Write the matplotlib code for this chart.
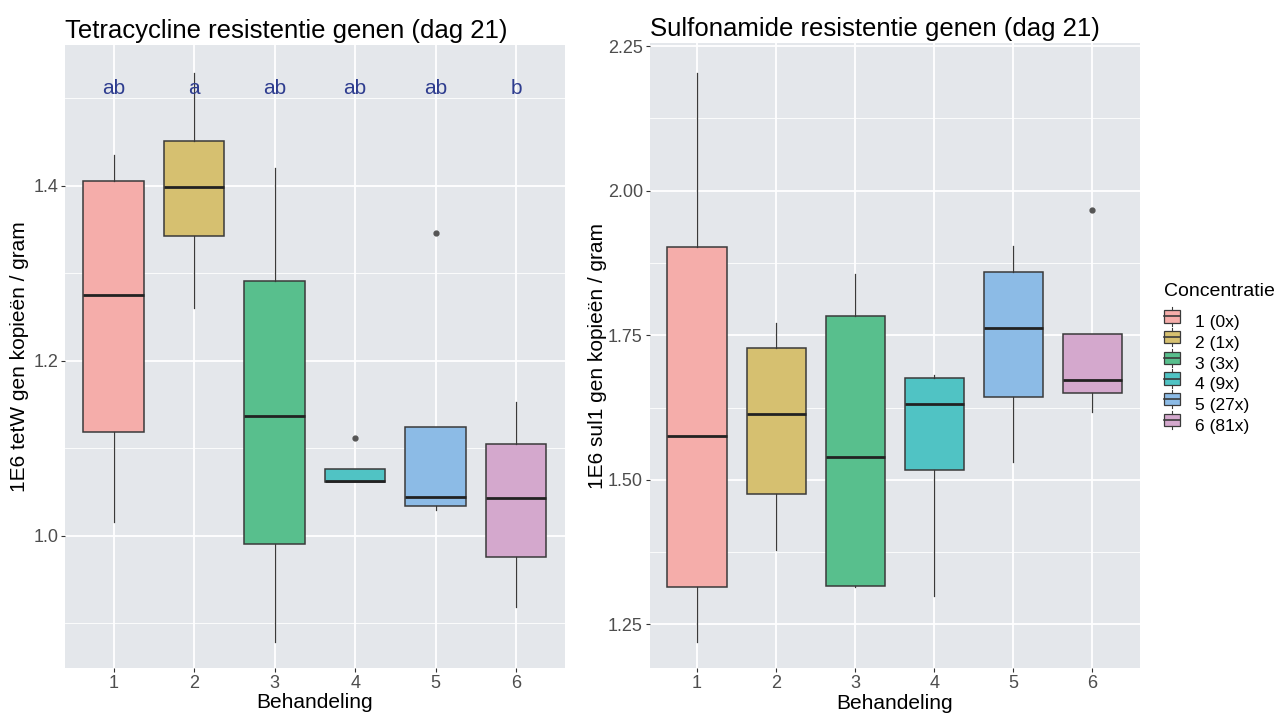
import matplotlib.pyplot as plt
import numpy as np
from matplotlib.patches import Patch, Rectangle
from matplotlib.lines import Line2D
from matplotlib.legend_handler import HandlerBase

plt.rcParams['font.family'] = ['Liberation Sans', 'DejaVu Sans']

groups = ['1', '2', '3', '4', '5', '6']
legend_labels = ['1 (0x)', '2 (1x)', '3 (3x)', '4 (9x)', '5 (27x)', '6 (81x)']
colors = ['#F5ADAA', '#D6C070', '#58BF8D', '#50C3C4', '#8CBBE6', '#D4A8CD']

# tetW (dag 21): q1, median, q3, lower whisker, upper whisker, outliers
tet_q1 = [1.119, 1.343, 0.991, 1.0614, 1.034, 0.976]
tet_med = [1.275, 1.399, 1.137, 1.063, 1.045, 1.043]
tet_q3 = [1.406, 1.451, 1.291, 1.0766, 1.125, 1.105]
tet_lo = [1.016, 1.260, 0.879, 1.0614, 1.030, 0.919]
tet_hi = [1.435, 1.529, 1.420, 1.0766, 1.125, 1.153]
tet_out = [[], [], [], [1.112], [1.346], []]
tet_letters = ['ab', 'a', 'ab', 'ab', 'ab', 'b']

# sul1 (dag 21)
sul_q1 = [1.314, 1.475, 1.317, 1.517, 1.643, 1.651]
sul_med = [1.576, 1.614, 1.540, 1.631, 1.763, 1.672]
sul_q3 = [1.903, 1.728, 1.784, 1.676, 1.860, 1.753]
sul_lo = [1.220, 1.378, 1.315, 1.299, 1.531, 1.617]
sul_hi = [2.204, 1.771, 1.856, 1.682, 1.904, 1.753]
sul_out = [[], [], [], [], [], [1.966]]

BG = '#E4E7EB'
TICKCOL = '#4D4D4D'


def make_stats(q1, med, q3, lo, hi, out):
    stats = []
    for i in range(len(groups)):
        stats.append(dict(q1=q1[i], med=med[i], q3=q3[i], whislo=lo[i],
                          whishi=hi[i], fliers=out[i], label=groups[i]))
    return stats


def style_panel(ax, ylim, major, minor, title, ylabel, label_x):
    ax.set_facecolor(BG)
    for s in ax.spines.values():
        s.set_visible(False)
    ax.set_ylim(*ylim)
    ax.set_xlim(0.4, 6.6)
    ax.set_yticks(major)
    ax.set_yticks(minor, minor=True)
    ax.grid(which='major', color='white', lw=1.3, zorder=0)
    ax.grid(which='minor', axis='y', color='white', lw=0.6, zorder=0)
    ax.set_axisbelow(True)
    ax.tick_params(axis='both', which='major', colors='#333333', labelcolor=TICKCOL,
                   labelsize=13, length=3, width=0.8, pad=2)
    ax.tick_params(axis='y', which='minor', length=0)
    ax.set_title(title, loc='left', fontsize=18.5, pad=5)
    ax.set_xlabel('Behandeling', fontsize=15, labelpad=1)
    ax.set_ylabel(ylabel, fontsize=15)
    ax.yaxis.label.set_verticalalignment('center')
    ax.yaxis.set_label_coords(label_x, 0.5)


def draw_boxes(ax, stats):
    bp = ax.bxp(stats, positions=np.arange(1, 7), widths=0.75, patch_artist=True,
                showcaps=False,
                boxprops=dict(edgecolor='#3A3A3A', linewidth=1.1),
                medianprops=dict(color='#222222', linewidth=2),
                whiskerprops=dict(color='#3A3A3A', linewidth=0.9),
                flierprops=dict(marker='o', markersize=3.5, markerfacecolor='#555555',
                                markeredgecolor='#555555'))
    for patch, c in zip(bp['boxes'], colors):
        patch.set_facecolor(c)
    return bp


class BoxKey(HandlerBase):
    def create_artists(self, legend, orig, xd, yd, w, h, fontsize, trans):
        cx = xd + w / 2
        bw = w * 0.95
        bh = h * 0.75
        rect = Rectangle((cx - bw / 2, yd + (h - bh) / 2), bw, bh,
                         facecolor=orig.get_facecolor(), edgecolor='#3A3A3A',
                         lw=0.9, transform=trans)
        med = Line2D([cx - bw / 2, cx + bw / 2], [yd + h / 2] * 2, color='#3A3A3A',
                     lw=1.2, transform=trans)
        top = Line2D([cx, cx], [yd + (h + bh) / 2, yd + h * 1.05], color='#3A3A3A',
                     lw=0.8, transform=trans)
        bot = Line2D([cx, cx], [yd + (h - bh) / 2, yd - h * 0.05], color='#3A3A3A',
                     lw=0.8, transform=trans)
        return [rect, med, top, bot]


fig = plt.figure(figsize=(12.85, 7.16), dpi=100)
ax1 = fig.add_axes([0.0508, 0.067, 0.3885, 0.870])
ax2 = fig.add_axes([0.5056, 0.0666, 0.3814, 0.8734])

draw_boxes(ax1, make_stats(tet_q1, tet_med, tet_q3, tet_lo, tet_hi, tet_out))
style_panel(ax1, (0.849, 1.561), [1.0, 1.2, 1.4], [0.9, 1.1, 1.3, 1.5],
            'Tetracycline resistentie genen (dag 21)', '1E6 tetW gen kopieën / gram',
            -0.0907)
ax1.set_yticklabels(['1.0', '1.2', '1.4'])
for i, lab in enumerate(tet_letters):
    ax1.text(i + 1, 1.511, lab, ha='center', va='center', fontsize=15, color='#2E3D8F')

draw_boxes(ax2, make_stats(sul_q1, sul_med, sul_q3, sul_lo, sul_hi, sul_out))
style_panel(ax2, (1.1742, 2.2555), [1.25, 1.50, 1.75, 2.00, 2.25],
            [1.375, 1.625, 1.875, 2.125],
            'Sulfonamide resistentie genen (dag 21)', '1E6 sul1 gen kopieën / gram',
            -0.1055)
ax2.set_yticklabels(['1.25', '1.50', '1.75', '2.00', '2.25'])

handles = [Patch(facecolor=c) for c in colors]
leg = fig.legend(handles, legend_labels, title='Concentratie', loc='upper left',
                 bbox_to_anchor=(0.8934, 0.626), frameon=False, fontsize=12.5,
                 title_fontsize=14, handlelength=0.95, handleheight=1.1,
                 labelspacing=0.2, handletextpad=0.85,
                 handler_map={Patch: BoxKey()})
leg._legend_box.align = 'left'
leg._legend_box.sep = 9

fig.savefig('out.png', dpi=100)
